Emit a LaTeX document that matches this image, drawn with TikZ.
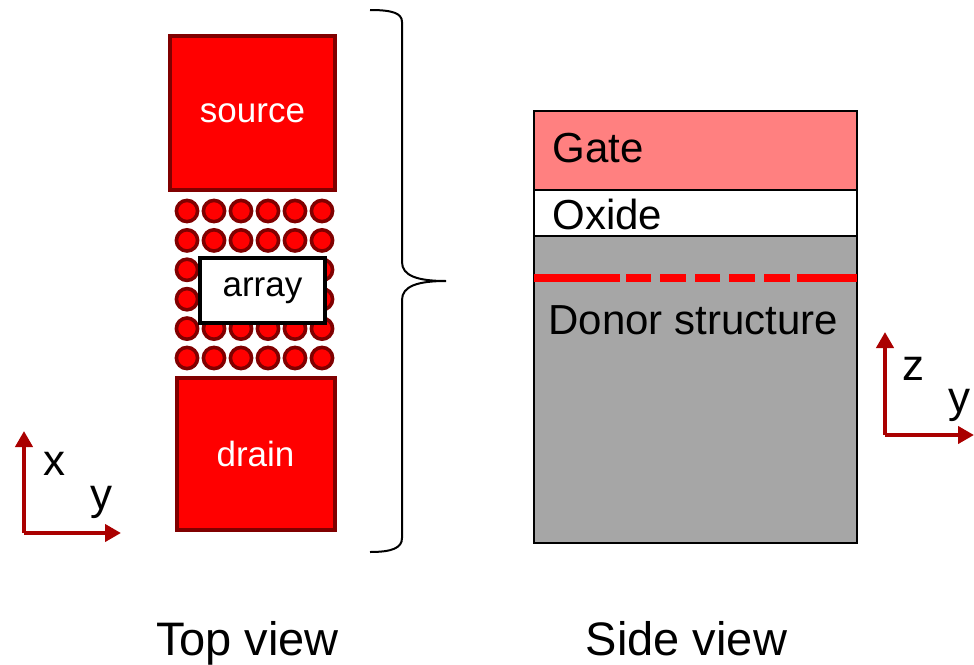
\documentclass[tikz,border=0pt]{standalone}
\usepackage{fontspec}
\setmainfont{Liberation Sans}
\usetikzlibrary{arrows.meta}

\definecolor{padred}{RGB}{255,0,0}
\definecolor{padedge}{RGB}{128,0,0}
\definecolor{gatepink}{RGB}{255,128,128}
\definecolor{donorgray}{RGB}{166,166,166}
\definecolor{axisred}{RGB}{170,0,0}

\begin{document}
\begin{tikzpicture}[
  x=0.5pt, y=-0.5pt,
  pad/.style={draw=padedge, fill=padred, line width=2pt, inner sep=0pt, text=white,
    font=\fontsize{17.5}{20}\selectfont, minimum width=82.5pt, minimum height=77pt},
  dot/.style={draw=padedge, fill=padred, line width=1.8pt},
  tag/.style={draw=black, fill=white, line width=2pt, inner sep=0pt,
    font=\fontsize{17.5}{20}\selectfont, minimum width=62.5pt, minimum height=32.5pt},
  layer/.style={draw=black, line width=0.8pt},
  lbl/.style={anchor=base west, inner sep=0pt, font=\fontsize{21}{24}\selectfont},
  caption/.style={anchor=base, inner sep=0pt, font=\fontsize{23.5}{27}\selectfont},
  axlbl/.style={anchor=base, inner sep=0pt, font=\fontsize{22}{25}\selectfont},
  axis/.style={draw=axisred, line width=2.2pt, -{Triangle[length=8pt,width=8.5pt]}}
]
\useasboundingbox (0,0) rectangle (974,664);

% top view: channel dots
\foreach \i in {0,...,5}
  \foreach \j in {0,...,5}
    \draw[dot] (187+27*\i, 211+29.4*\j) circle (10.6);

\node[pad] (source) at (252.5,113) {\raisebox{-2pt}{source}};
\node[pad, minimum width=79pt, minimum height=76pt] (drain) at (255.5,454) {drain};
\node[tag] (array) at (262.5,290.5) {\raisebox{-1.5pt}{array}};

% brace
\draw[line width=1pt] (370,10) .. controls (392,10) and (402,13) .. (402,22)
  -- (402,262) .. controls (402,276) and (418,281) .. (446,281)
  .. controls (418,281) and (402,286) .. (402,300)
  -- (402,538) .. controls (402,548) and (392,552) .. (370,552);

% side view
\fill[gatepink] (534,111) rectangle (857,190);
\fill[white] (534,190) rectangle (857,236);
\fill[donorgray] (534,236) rectangle (857,543);
\draw[layer] (534,190) -- (857,190);
\draw[layer] (534,236) -- (857,236);
\draw[line width=1.2pt] (534,111) rectangle (857,543);
\foreach \a/\b in {534/620, 626/651, 660/686, 695/720, 729/755, 764/790, 797/857}
  \draw[padred, line width=4pt] (\a,278) -- (\b,278);

\node[lbl] (gate) at (552,162) {Gate};
\node[lbl] (oxide) at (552,229) {Oxide};
\node[lbl] (donor) at (548,334) {Donor structure};

% axes
\coordinate (o1) at (24,533);
\coordinate (x1) at (24,431);
\coordinate (y1) at (121,533);
\draw[axis] (o1) -- (x1);
\draw[axis] (o1) -- (y1);
\node[axlbl] (xl) at (54,475) {x};
\node[axlbl] (yl1) at (101,509) {y};

\coordinate (o2) at (885,435);
\coordinate (z2) at (885,332);
\coordinate (y2) at (974,435);
\draw[axis] (o2) -- (z2);
\draw[axis] (o2) -- (y2);
\node[axlbl] (zl) at (913,380) {z};
\node[axlbl] (yl2) at (959,412) {y};

% captions
\node[caption] (top) at (247.5,655) {Top view};
\node[caption] (side) at (686.5,655) {Side view};
\end{tikzpicture}
\end{document}
